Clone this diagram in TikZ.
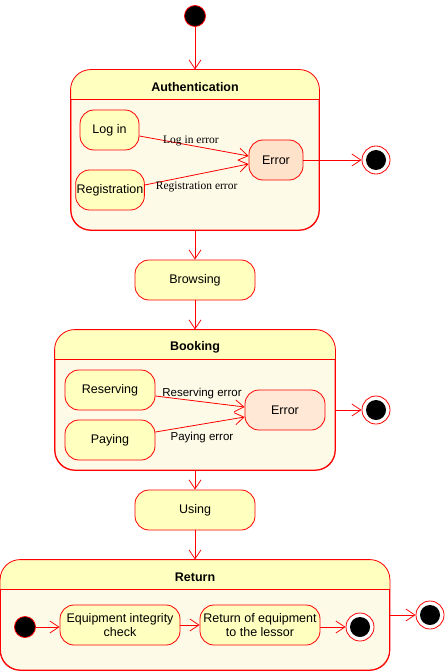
\documentclass[tikz,border=0pt]{standalone}
\usepackage{fontspec}
\setmainfont{Liberation Sans}
\newfontfamily\serifrm{Liberation Serif}
\usetikzlibrary{arrows.meta,calc}
\definecolor{ured}{HTML}{FF0000}
\definecolor{stfill}{HTML}{FFFFC0}
\definecolor{bodyfill}{HTML}{FEFAE8}
\definecolor{errfill}{HTML}{FFE2CA}
\tikzset{
  stbox/.style={draw=ured, fill=stfill, rounded corners=14pt, line width=0.8pt, inner sep=1pt, align=center, font=\fontsize{12.5}{14.5}\selectfont},
  errbox/.style={stbox, fill=errfill},
  comp/.style={draw=ured, fill=bodyfill, rounded corners=20pt, line width=0.8pt, inner sep=0pt},
  trans/.style={draw=ured, line width=0.8pt, -{Straight Barb[length=9pt,width=12pt]}},
  initst/.style={circle, fill=black, draw=ured, line width=0.8pt, minimum size=21pt, inner sep=0pt},
  finalst/.style={circle, draw=ured, fill=white, line width=0.8pt, minimum size=28pt, inner sep=0pt, path picture={\fill[black] (path picture bounding box.center) circle (10pt);}},
  hdr/.style={font=\bfseries\fontsize{12.5}{14.5}\selectfont},
  elab/.style={font=\serifrm\fontsize{11.5}{13}\selectfont},
  slab/.style={font=\fontsize{11.5}{13}\selectfont},
}
\newcommand{\composite}[2]{%
  \begin{scope}
    \clip[rounded corners=20pt] (#1.south west) rectangle (#1.north east);
    \fill[stfill] (#1.north west) rectangle ($(#1.north east)+(0,-#2)$);
  \end{scope}
  \draw[ured, line width=0.8pt, rounded corners=20pt] (#1.south west) rectangle (#1.north east);
  \draw[ured, line width=0.8pt] ($(#1.north west)+(0,-#2)$) -- ($(#1.north east)+(0,-#2)$);
}
\begin{document}
\begin{tikzpicture}[x=1pt,y=-1pt]
\useasboundingbox (0,0) rectangle (446,671);
% top
\node[initst] (init) at (195,16) {};
% Authentication
\node[comp, minimum width=248pt, minimum height=160pt] (auth) at (195,150) {};
\composite{auth}{30pt}
\node[hdr] (authT) at (195,87) {Authentication};
\node[stbox, minimum width=59pt, minimum height=40pt] (login) at (109.5,130) {Log in};
\node[stbox, minimum width=60pt, minimum height=40pt] (reg) at (110,190) {Registration};
\node[errbox, minimum width=54pt, minimum height=40pt] (err1) at (276,160) {Error};
\node[finalst] (fin1) at (376,160) {};
\draw[trans] ([yshift=-6pt]login.east) -- node[elab, pos=0.5, above=-4pt, xshift=-3pt] (l1) {Log in error} ([yshift=4pt]err1.west);
\draw[trans] ([yshift=5pt]reg.east) -- node[elab, pos=0.5, below=4pt] (l2) {Registration error} ([yshift=-4pt]err1.west);
\draw[trans] (err1.east) -- (fin1.west);
\draw[trans] (init.south) -- (auth.north);
% Browsing
\node[stbox, minimum width=120pt, minimum height=40pt] (browse) at (195,280) {Browsing};
\draw[trans] (auth.south) -- (browse.north);
% Booking
\node[comp, minimum width=280pt, minimum height=140pt] (book) at (195,400) {};
\composite{book}{30pt}
\node[hdr] (bookT) at (195,347) {Booking};
\draw[trans] (browse.south) -- (book.north);
\node[stbox, minimum width=90pt, minimum height=40pt] (resv) at (110,390) {Reserving};
\node[stbox, minimum width=90pt, minimum height=40pt] (pay) at (110,440) {Paying};
\node[errbox, fill=errfill!80!white, minimum width=80pt, minimum height=40pt] (err2) at (285,410) {Error};
\node[finalst] (fin2) at (376,410) {};
\draw[trans] ([yshift=-6pt]resv.east) -- node[slab, pos=0.5, above=-1pt, xshift=2pt] (l3) {Reserving error} ([yshift=3pt]err2.west);
\draw[trans] ([yshift=8pt]pay.east) -- node[slab, pos=0.5, below=4pt, xshift=2pt] (l4) {Paying error} ([yshift=-7pt]err2.west);
\draw[trans] (book.east |- fin2.west) -- (fin2.west);
% Using
\node[stbox, minimum width=120pt, minimum height=40pt] (using) at (195,510) {Using};
\draw[trans] (book.south) -- (using.north);
% Return
\node[comp, minimum width=389pt, minimum height=110pt] (ret) at (195,615) {};
\composite{ret}{30pt}
\node[hdr] (retT) at (195,577) {Return};
\draw[trans] (using.south) -- (ret.north);
\node[initst] (init2) at (25,627) {};
\node[stbox, minimum width=120pt, minimum height=40pt] (check) at (120,625) {Equipment integrity\\check};
\node[stbox, minimum width=120pt, minimum height=40pt] (rete) at (260,625) {Return of equipment\\to the lessor};
\node[finalst] (fin3) at (360,627) {};
\node[finalst] (fin4) at (430,615) {};
\draw[trans] (init2.east) -- (check.west |- init2.east);
\draw[trans] (check.east) -- (rete.west);
\draw[trans] (rete.east |- fin3.west) -- (fin3.west);
\draw[trans] (ret.east |- fin4.west) -- (fin4.west);
\end{tikzpicture}
\end{document}
